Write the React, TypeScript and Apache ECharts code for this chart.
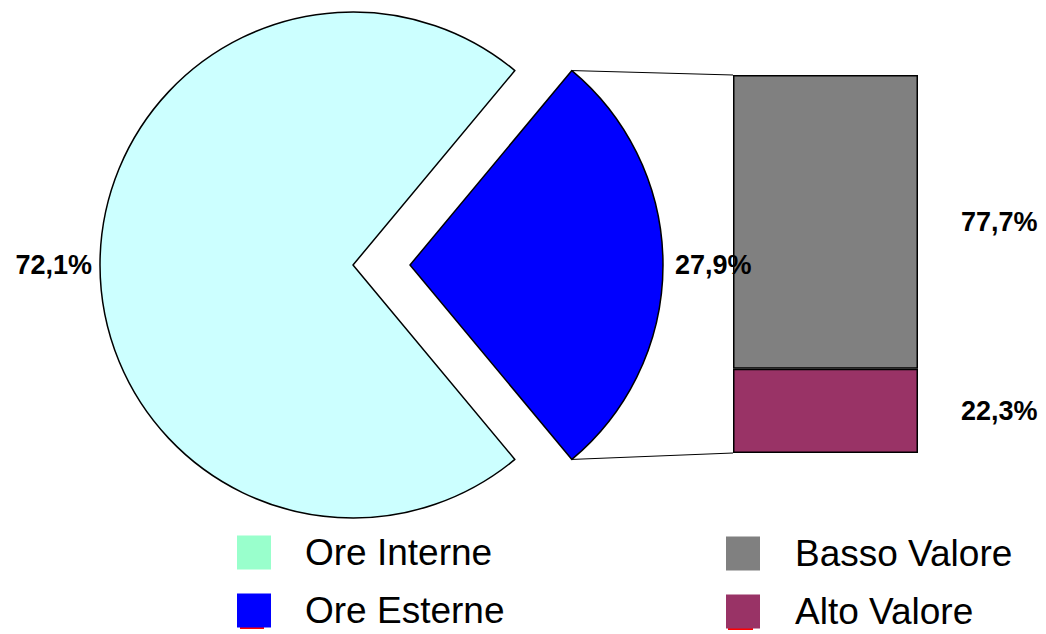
import React, { useEffect, useRef } from 'react';
import * as echarts from 'echarts';

const PIE_NAMES = ['Ore Interne', 'Ore Esterne'];
const PIE_VALUES = [72.1, 27.9];
const PIE_COLORS = ['#CCFFFF', '#0000FF'];
const PIE_LEGEND_COLORS = ['#99FFCC', '#0000FF'];
const BAR_NAMES = ['Basso Valore', 'Alto Valore'];
const BAR_VALUES = [77.7, 22.3];
const BAR_COLORS = ['#808080', '#993366'];
const BAR_CATEGORIES = ['Ore Esterne'];

const FONT = 'Liberation Sans, Arial, sans-serif';
const fmt = (v: number) => v.toFixed(1).replace('.', ',') + '%';

export default function App() {
  const ref = useRef<HTMLDivElement>(null);
  useEffect(() => {
    document.body.style.margin = '0';
    const chart = echarts.init(ref.current!, null, { renderer: 'svg' });
    const CX = 353, CY = 265, R = 253, OFFSET = 57;
    const GL = 733, GT = 75, GW = 185, GH = 378;
    const total = PIE_VALUES.reduce((a, b) => a + b, 0);
    const halfDeg = (PIE_VALUES[1] / total) * 180;
    const half = (halfDeg * Math.PI) / 180;
    const cornerX = CX + OFFSET + R * Math.cos(half);
    const cornerTopY = CY - R * Math.sin(half);
    const cornerBotY = CY + R * Math.sin(half);

    const labelStyle = {
      color: '#000',
      fontSize: 27,
      fontWeight: 'bold' as const,
      fontFamily: FONT,
    };

    const barSeries = BAR_NAMES.map((name, i) => ({
      name,
      type: 'bar' as const,
      stack: 'tot',
      barWidth: '100%',
      data: [BAR_VALUES[i]],
      itemStyle: { color: BAR_COLORS[i], borderColor: '#000', borderWidth: 1.5 },
      label: {
        show: true,
        position: 'right' as const,
        distance: 43,
        formatter: (p: any) => fmt(p.value),
        ...labelStyle,
      },
      silent: true,
    })).reverse();

    chart.setOption({
      animation: false,
      legend: [
        {
          data: PIE_NAMES.map((n, i) => ({
            name: n,
            itemStyle: { color: PIE_LEGEND_COLORS[i], borderWidth: 0 },
          })),
          orient: 'vertical',
          left: 237,
          top: 534,
          padding: 0,
          itemWidth: 34,
          itemHeight: 34,
          itemGap: 21,
          icon: 'rect',
          selectedMode: false,
          textStyle: { fontSize: 37, fontFamily: FONT, color: '#000', padding: [0, 0, 0, 29] },
        },
        {
          data: BAR_NAMES.map((n, i) => ({
            name: n,
            itemStyle: { color: BAR_COLORS[i], borderWidth: 0 },
          })),
          orient: 'vertical',
          left: 726,
          top: 535,
          padding: 0,
          itemWidth: 34,
          itemHeight: 34,
          itemGap: 21,
          icon: 'rect',
          selectedMode: false,
          textStyle: { fontSize: 37, fontFamily: FONT, color: '#000', padding: [0, 0, 0, 30] },
        },
      ],
      grid: { left: GL, top: GT, width: GW, height: GH, containLabel: false },
      xAxis: { type: 'category', data: BAR_CATEGORIES, show: false },
      yAxis: { type: 'value', min: 0, max: 100, show: false },
      series: [
        {
          type: 'pie',
          center: [CX, CY],
          radius: R,
          startAngle: -halfDeg,
          clockwise: true,
          avoidLabelOverlap: false,
          selectedMode: 'single',
          selectedOffset: OFFSET,
          silent: true,
          emphasis: { disabled: true },
          itemStyle: { borderColor: '#000', borderWidth: 1.5 },
          label: {
            show: true,
            position: 'outside',
            distanceToLabelLine: 8,
            formatter: (p: any) => fmt(p.value),
            ...labelStyle,
          },
          labelLine: { show: false, length: 0, length2: 0 },
          data: PIE_NAMES.map((n, i) => ({
            name: n,
            value: PIE_VALUES[i],
            selected: i === 1,
            itemStyle: { color: PIE_COLORS[i] },
            labelLine: i === 1 ? { show: false, length: 0, length2: 4 } : undefined,
          })),
        },
        ...barSeries,
      ],
      graphic: [
        {
          type: 'line',
          shape: { x1: cornerX, y1: cornerTopY, x2: GL, y2: GT },
          style: { stroke: '#000', lineWidth: 1 },
          silent: true,
        },
        {
          type: 'line',
          shape: { x1: cornerX, y1: cornerBotY, x2: GL, y2: GT + GH },
          style: { stroke: '#000', lineWidth: 1 },
          silent: true,
        },
        { type: 'rect', shape: { x: 240, y: 626, width: 24, height: 3 }, style: { fill: '#FF0000' }, silent: true },
        { type: 'rect', shape: { x: 728, y: 627, width: 25, height: 3 }, style: { fill: '#FF0000' }, silent: true },
      ],
    });
    return () => chart.dispose();
  }, []);
  return (
    <div
      ref={ref}
      style={{ position: 'fixed', left: 0, top: 0, width: 1046, height: 634, background: '#fff' }}
    />
  );
}
